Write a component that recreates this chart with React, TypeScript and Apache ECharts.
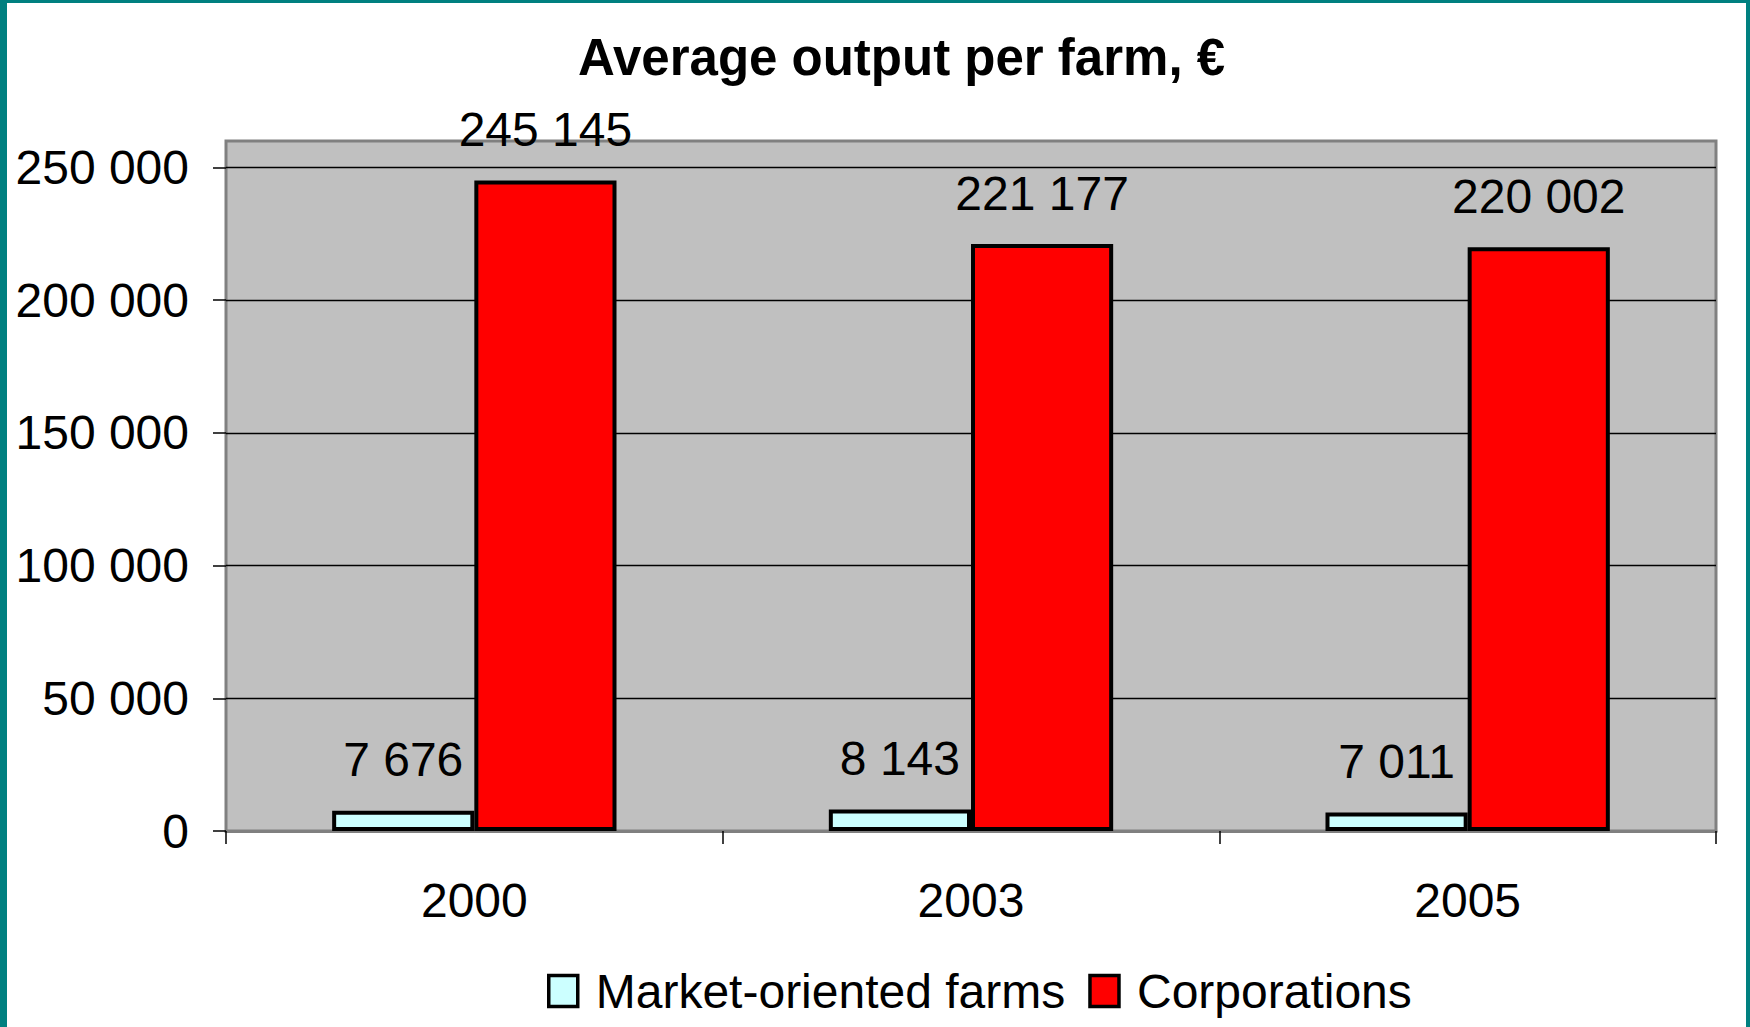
import React, { useEffect, useRef } from "react";
import * as echarts from "echarts";

const titleText = "Average output per farm, €";
const categories = ["2000", "2003", "2005"];
const seriesNames = ["Market-oriented farms", "Corporations"];
const marketOriented = [7676, 8143, 7011];
const corporations = [245145, 221177, 220002];
const yTicks = [0, 50000, 100000, 150000, 200000, 250000];

const FONT = "'Liberation Sans', Arial, sans-serif";
const fmt = (v: number) => String(v).replace(/\B(?=(\d{3})+(?!\d))/g, " ");

export default function App() {
  const ref = useRef<HTMLDivElement>(null);
  useEffect(() => {
    if (!ref.current) return;
    const chart = echarts.init(ref.current, undefined, { renderer: "svg" });
    const label = {
      show: true,
      position: "top",
      distance: 27,
      color: "#000",
      fontFamily: FONT,
      fontSize: 48,
      lineHeight: 48,
      formatter: (p: any) => fmt(p.value),
    };
    chart.setOption({
      animation: false,
      backgroundColor: "#ffffff",
      title: {
        text: titleText,
        left: 573,
        top: 27,
        textStyle: { fontFamily: FONT, fontSize: 51, lineHeight: 51, fontWeight: "bold", color: "#000" },
      },
      legend: {
        left: 542,
        top: 962,
        itemWidth: 29,
        itemHeight: 31,
        itemGap: 23,
        icon: "rect",
        itemStyle: { borderColor: "#000", borderWidth: 3.5 },
        textStyle: { fontFamily: FONT, fontSize: 48, lineHeight: 48, color: "#000", padding: [0, 0, 0, 13] },
        data: seriesNames,
      },
      grid: {
        left: 226,
        right: 34,
        top: 141,
        bottom: 196,
        show: true,
        backgroundColor: "#C0C0C0",
        borderColor: "#808080",
        borderWidth: 3,
        containLabel: false,
        outerBoundsMode: "none",
      },
      xAxis: {
        type: "category",
        data: categories,
        axisLine: { show: true, lineStyle: { color: "#808080", width: 3 } },
        axisTick: { show: true, length: 13, lineStyle: { color: "#000", width: 1.5 } },
        axisLabel: { margin: 45, fontFamily: FONT, fontSize: 48, lineHeight: 48, color: "#000" },
      },
      yAxis: {
        type: "value",
        min: 0,
        max: 260000,
        interval: 50000,
        axisLine: { show: false },
        axisTick: { show: true, length: 13, customValues: yTicks, lineStyle: { color: "#000", width: 1.5 } },
        axisLabel: {
          margin: 37,
          customValues: yTicks,
          fontFamily: FONT,
          fontSize: 48,
          color: "#000",
          formatter: (v: number) => fmt(v),
        },
        splitLine: { show: true, lineStyle: { color: "#000", width: 1.3 } },
      },
      series: [
        {
          name: seriesNames[0],
          type: "bar",
          data: marketOriented,
          barGap: "0%",
          barCategoryGap: "42.75%",
          itemStyle: { color: "#CCFFFF", borderColor: "#000", borderWidth: 4 },
          label,
        },
        {
          name: seriesNames[1],
          type: "bar",
          data: corporations,
          barGap: "0%",
          barCategoryGap: "42.75%",
          itemStyle: { color: "#FF0000", borderColor: "#000", borderWidth: 4 },
          label,
        },
      ],
      graphic: [
        { type: "rect", shape: { x: 0, y: 0, width: 7, height: 1027 }, style: { fill: "#008080" }, z: 100 },
        { type: "rect", shape: { x: 0, y: 0, width: 1750, height: 3 }, style: { fill: "#008080" }, z: 100 },
        { type: "rect", shape: { x: 1746, y: 0, width: 4, height: 1027 }, style: { fill: "#008080" }, z: 100 },
      ],
    });
    return () => chart.dispose();
  }, []);
  return (
    <div
      ref={ref}
      style={{ position: "absolute", left: 0, top: 0, width: 1750, height: 1027, background: "#fff" }}
    />
  );
}
